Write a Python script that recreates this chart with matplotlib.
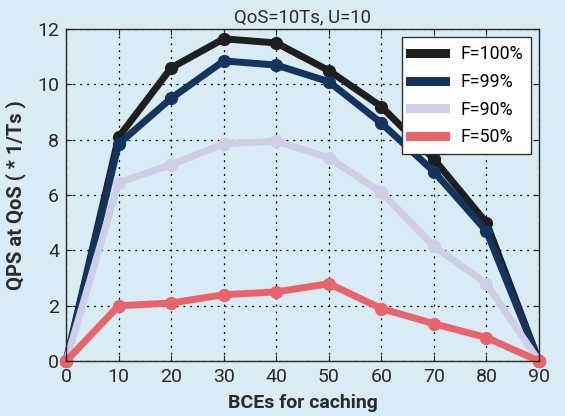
import matplotlib
matplotlib.use("Agg")
import matplotlib.pyplot as plt

# ── data ────────────────────────────────────────────────────────────────────
bces = [0, 10, 20, 30, 40, 50, 60, 70, 80, 90]
qps_f100 = [0, 8.1, 10.6, 11.65, 11.5, 10.5, 9.2, 7.3, 5.0, 0]
qps_f99 = [0, 7.85, 9.5, 10.85, 10.7, 10.1, 8.6, 6.85, 4.7, 0]
qps_f90 = [0, 6.45, 7.1, 7.85, 7.95, 7.35, 6.1, 4.15, 2.8, 0]
qps_f50 = [0, 2.0, 2.1, 2.4, 2.5, 2.8, 1.9, 1.35, 0.85, 0]
labels = ["F=100%", "F=99%", "F=90%", "F=50%"]

# ── colours ────────────────────────────────────────────────────────────────
BG = "#d9ebf4"
TXT = "#2a2a2a"
colors = ["#1e1e1e", "#14335f", "#d0cde6", "#e8646a"]

plt.rcParams["font.family"] = ["Roboto", "DejaVu Sans"]

fig = plt.figure(figsize=(5.65, 4.16), dpi=100, facecolor=BG)
ax = fig.add_axes([0.117, 0.132, 0.837, 0.798], facecolor=BG)

for ys, c, lab in zip([qps_f100, qps_f99, qps_f90, qps_f50], colors, labels):
    ax.plot(bces, ys, color=c, lw=5, marker="o", ms=8.5,
            mec=c, mfc=c, label=lab, solid_joinstyle="round", clip_on=False)

ax.set_xlim(0, 90)
ax.set_ylim(0, 12)
ax.set_xticks(bces)
ax.set_yticks([0, 2, 4, 6, 8, 10, 12])
ax.tick_params(labelsize=14, colors=TXT, direction="in", length=4,
               top=True, right=True, pad=5)
ax.grid(True, color="black", linestyle=(0, (1.5, 4)), linewidth=0.9)
for s in ax.spines.values():
    s.set_color(TXT)
    s.set_linewidth(1.0)

ax.set_title("QoS=10Ts, U=10", fontsize=13.3, color=TXT, pad=5)
ax.set_xlabel("BCEs for caching", fontsize=14, fontweight="bold",
              color=TXT, labelpad=6)
ax.set_ylabel("QPS at QoS ( * 1/Ts )", fontsize=14.5, fontweight="bold",
              color=TXT, labelpad=8)

leg = ax.legend(loc="upper right", fontsize=12.8, fancybox=False,
                framealpha=1, edgecolor="#333333", handlelength=2.0,
                borderaxespad=0.45, borderpad=0.45, labelspacing=0.55,
                handletextpad=0.85)
leg.get_frame().set_linewidth(1.0)
for h in leg.get_lines():
    h.set_marker("")
    h.set_linewidth(6.5)

fig.savefig("out.png", dpi=100, facecolor=BG)
